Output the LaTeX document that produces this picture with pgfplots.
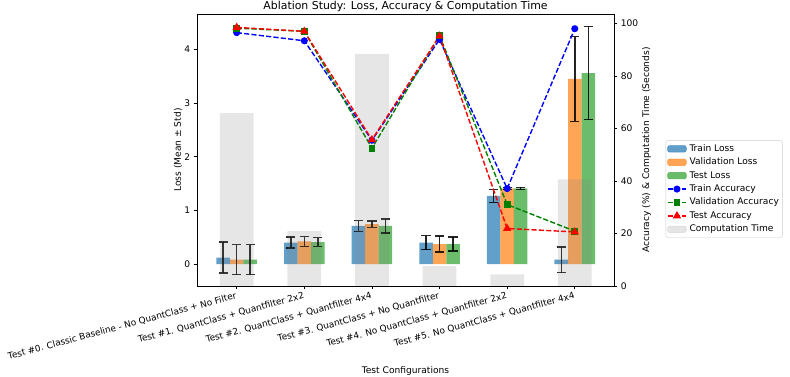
\documentclass[border=0pt]{standalone}
\usepackage{pgfplots}
\pgfplotsset{compat=1.18}
\usepackage{fontspec}
\setmainfont{DejaVu Sans}
\definecolor{tabblue}{RGB}{31,119,180}
\definecolor{taborange}{RGB}{255,127,14}
\definecolor{tabgreen}{RGB}{44,160,44}
\definecolor{ctgray}{RGB}{128,128,128}
\newcommand{\fs}{\fontsize{9.1}{11}\selectfont}
\pgfplotstableread{
x y e
-0.2 0.12 0.29
0.8 0.40 0.10
1.8 0.71 0.10
2.8 0.40 0.13
3.8 1.27 0.12
4.8 0.08 0.24
}\trainloss
\pgfplotstableread{
x y e
0 0.08 0.28
1 0.42 0.09
2 0.745 0.06
3 0.37 0.15
4 1.41 0.02
5 3.45 0.79
}\valloss
\pgfplotstableread{
x y e
0.2 0.08 0.28
1.2 0.41 0.08
2.2 0.71 0.13
3.2 0.37 0.13
4.2 1.41 0.02
5.2 3.56 0.87
}\testloss
\pgfplotsset{
  base/.style={
    scale only axis, width=417pt, height=272pt,
    xmin=-0.587, xmax=5.58,
    tick align=outside, major tick length=3.3pt,
    tick style={black, line width=0.75pt},
    axis line style={line width=0.75pt},
    ticklabel style={font=\fs},
    label style={font=\fs},
    /pgf/number format/assume math mode=true,
  },
  lossbar/.style={ybar, bar width=0.2, bar shift=0pt, draw=none, fill=#1, fill opacity=0.7,
    error bars/.cd, y dir=both, y explicit,
    error bar style={black, line width=1.5pt, opacity=0.85},
    error mark options={black, line width=1.5pt, mark size=4.6pt, rotate=90}},
  acc/.style={#1, dashed, dash pattern=on 5.2pt off 2.2pt, line width=1.4pt, mark options={solid, fill=#1}},
  linelegend/.style={legend image code/.code={\draw[mark repeat=2,mark phase=2,##1] plot coordinates {(0pt,0pt) (9.35pt,0pt) (18.7pt,0pt)};}},
  barlegend/.style={legend image code/.code={\fill[#1, opacity=0.7] (0pt,-3.3pt) rectangle (18.7pt,3.3pt);}},
}
\begin{document}
\begin{tikzpicture}
\useasboundingbox (-197pt,-91pt) rectangle (593pt,286pt);
\begin{axis}[base,
  ymin=-0.41, ymax=4.66,
  axis y line*=left,
  ytick={0,1,2,3,4},
  xtick={0,1,2,3,4,5},
  xtick pos=left,
  xticklabels={{Test \#0. Classic Baseline - No QuantClass + No Filter},
    {Test \#1. QuantClass + Quantfilter 2x2},
    {Test \#2. QuantClass + Quantfilter 4x4},
    {Test \#3. QuantClass + No Quantfilter},
    {Test \#4. No QuantClass + Quantfilter 2x2},
    {Test \#5. No QuantClass + Quantfilter 4x4}},
  xticklabel style={rotate=15, anchor=north east, inner sep=2pt, font=\fontsize{8.9}{10}\selectfont},
  ylabel={Loss (Mean ± Std)},
  ylabel style={at={(axis description cs:-0.0456,0.5)}, anchor=center},
  xlabel={Test Configurations},
  xlabel style={at={(axis description cs:0.5,-0.323)}, anchor=base},
  title={Ablation Study: Loss, Accuracy \& Computation Time},
  title style={at={(axis description cs:0.5,1.017)}, anchor=base, yshift=-6pt, font=\fontsize{10.9}{13}\selectfont},
]
\addplot[lossbar=tabblue] table[x=x, y=y, y error=e] {\trainloss};
\addplot[lossbar=taborange] table[x=x, y=y, y error=e] {\valloss};
\addplot[lossbar=tabgreen] table[x=x, y=y, y error=e] {\testloss};
\end{axis}
\begin{axis}[base,
  ymin=0, ymax=103.6,
  axis y line*=right,
  hide x axis,
  ytick={0,20,40,60,80,100},
  ylabel={Accuracy (\%) \& Computation Time (Seconds)},
  ylabel style={at={(axis description cs:1.0784,0.5)}, anchor=center},
  legend cell align=left,
  legend style={at={(axis description cs:1.124,0.535)}, anchor=north west,
    draw=black!20, rounded corners=2pt, fill=white, font=\fs,
    inner xsep=1pt, inner ysep=1.5pt, row sep=0pt,
    nodes={inner ysep=2.2pt, inner xsep=2.5pt, text height=7pt, text depth=2pt}},
]
\addlegendimage{barlegend=tabblue}
\addlegendentry{Train Loss}
\addlegendimage{barlegend=taborange}
\addlegendentry{Validation Loss}
\addlegendimage{barlegend=tabgreen}
\addlegendentry{Test Loss}
\addplot[ybar, bar width=0.5, bar shift=0pt, draw=none, fill=ctgray, fill opacity=0.2, forget plot]
  coordinates {(0,65.8) (1,20.9) (2,88.4) (3,7.6) (4,4.4) (5,40.6)};
\addplot[acc=blue, mark=*, mark size=2.8pt, linelegend]
  coordinates {(0,96.5) (1,93.4) (2,55.5) (3,93.9) (4,37.1) (5,98.0)};
\addlegendentry{Train Accuracy}
\addplot[acc={green!50!black}, mark=square*, mark size=2.7pt, linelegend]
  coordinates {(0,98.2) (1,97.0) (2,52.5) (3,95.4) (4,31.0) (5,20.9)};
\addlegendentry{Validation Accuracy}
\addplot[acc=red, mark=triangle*, mark size=3.4pt, linelegend]
  coordinates {(0,98.5) (1,97.0) (2,55.7) (3,95.2) (4,21.9) (5,20.6)};
\addlegendentry{Test Accuracy}
\addlegendimage{legend image code/.code={\fill[ctgray, opacity=0.2] (0pt,-3.3pt) rectangle (18.7pt,3.3pt);}}
\addlegendentry{Computation Time}
\end{axis}
\end{tikzpicture}
\end{document}
